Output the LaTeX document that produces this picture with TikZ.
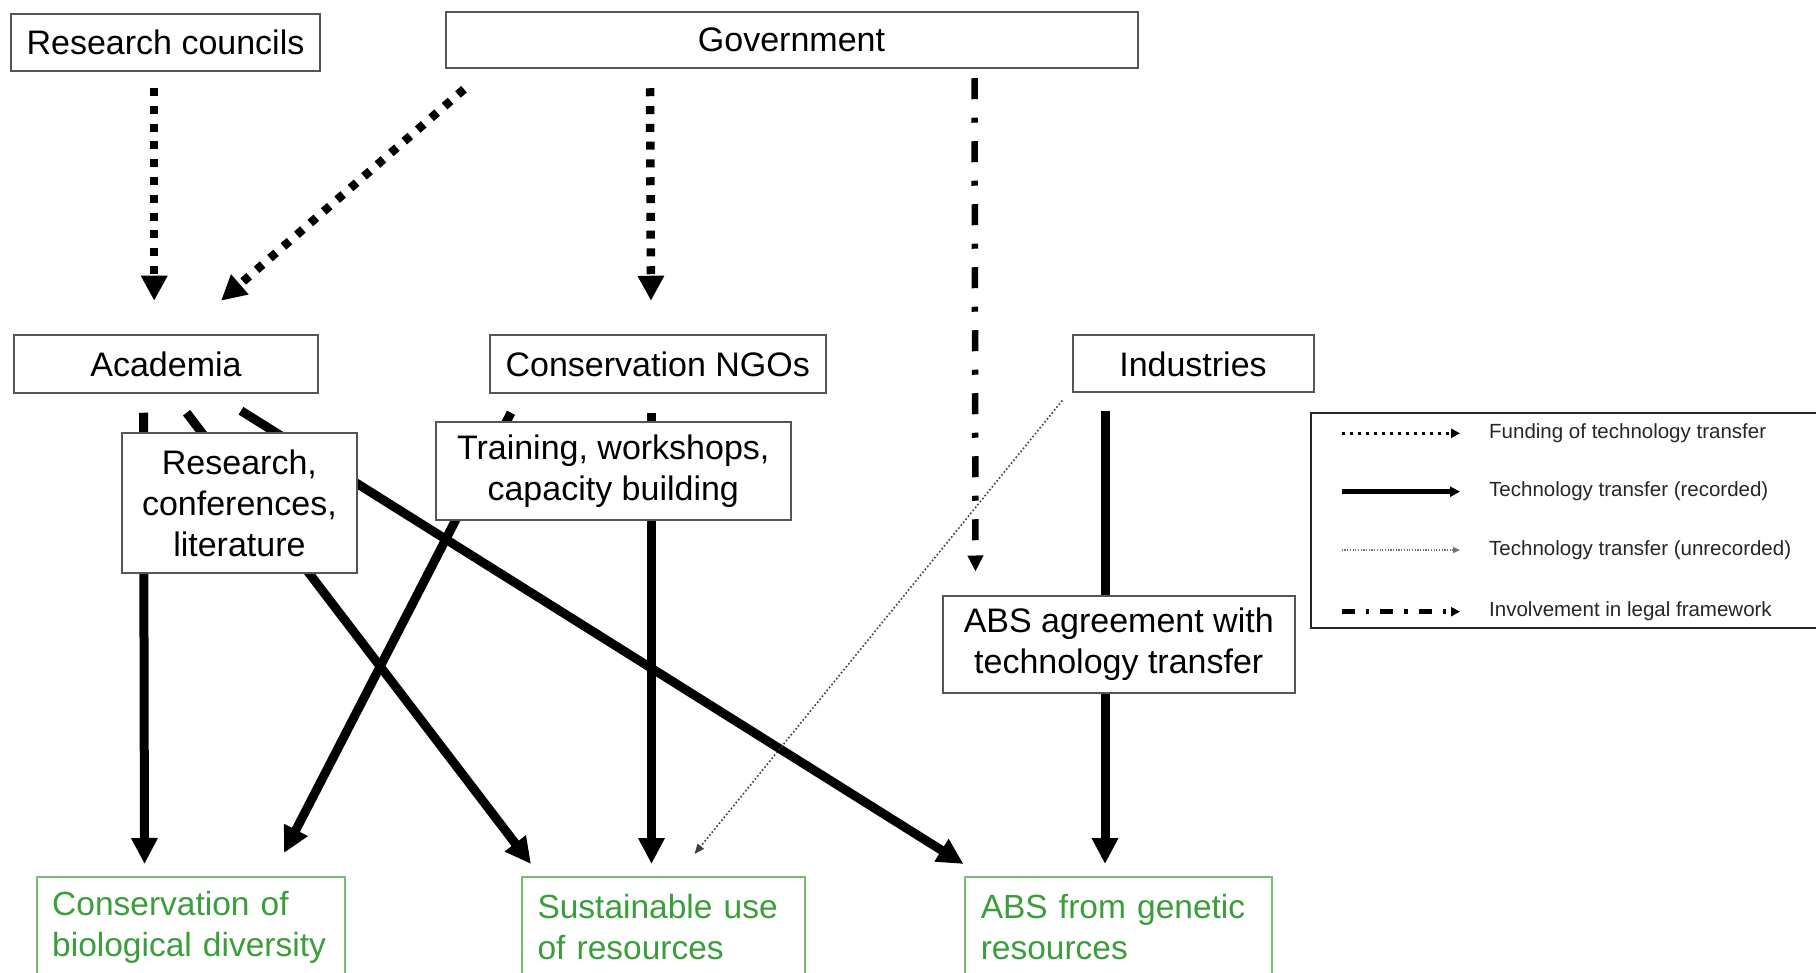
\documentclass[tikz,border=0pt]{standalone}
\usepackage{fontspec}
\setmainfont{Liberation Sans}
\usetikzlibrary{arrows.meta,calc,backgrounds}
\definecolor{grtext}{RGB}{58,158,58}
\definecolor{grline}{RGB}{115,192,115}
\definecolor{boxline}{RGB}{85,85,85}
\hyphenpenalty=10000
\exhyphenpenalty=10000
\begin{document}
\begin{tikzpicture}[x=1pt,y=-1pt,
  box/.style={draw=boxline,line width=2pt,fill=white,inner sep=0pt,
    font=\fontsize{34}{41}\selectfont,align=center},
  goal/.style={draw=grline,line width=2pt,fill=white,inner xsep=15.5pt,inner ysep=0pt,
    font=\fontsize{33.5}{41}\selectfont,
    text=grtext,align=left,anchor=north west,minimum height=101pt},
  fund/.style={line width=8.5pt,dash pattern=on 8pt off 9.8pt,-{Triangle[length=25pt,width=25pt]}},
  rec/.style={line width=9pt,-{Triangle[length=26pt,width=25pt]}},
  recplain/.style={line width=9pt},
  unrec/.style={line width=1.6pt,black!75,dash pattern=on 1.6pt off 2.2pt,-{Triangle[length=10pt,width=8pt]}},
  legal/.style={line width=6.5pt,dash pattern=on 21pt off 18.5pt on 5pt off 18.5pt,-{Triangle[length=16pt,width=15pt]}},
  legtext/.style={font=\fontsize{20.5}{24}\selectfont,anchor=west,text=black!85,inner sep=0pt},
]
\useasboundingbox (0,0) rectangle (1816,973);
\clip (0,0) rectangle (1816,973);

% top row
\node[box,minimum width=309pt,minimum height=57pt] (rc) at (165.5,42.5) {Research councils};
\node[box,minimum width=692pt,minimum height=56.5pt] (gov) at (791.5,40) {Government};
% middle row
\node[box,minimum width=304pt,minimum height=57.5pt] (acad) at (166,364) {Academia};
\node[box,minimum width=336.5pt,minimum height=57.5pt] (ngo) at (657.75,364) {Conservation NGOs};
\node[box,minimum width=241pt,minimum height=57pt] (ind) at (1193,364) {Industries};
% intermediate boxes
\node[box,minimum width=235.3pt,minimum height=140.5pt] (res) at (239.4,503.2) {Research,\\conferences,\\literature};
\node[box,minimum width=354.5pt,minimum height=98pt] (trn) at (613.25,471) {Training, workshops,\\capacity building};
\node[box,minimum width=352.5pt,minimum height=97pt] (absa) at (1118.75,644) {ABS agreement with\\technology transfer};
% goals
\node[goal,text width=276.8pt] (cons) at (35.7,875.5) {Conservation of\\biological diversity};
\node[goal,text width=251.7pt] (sust) at (521,875.5) {Sustainable use\\of resources};
\node[goal,text width=275.4pt] (absg) at (964.3,875.5) {ABS from genetic\\resources};

% legend
\node[draw=black!85,line width=2pt,fill=white,minimum width=520pt,minimum height=215pt,anchor=north west,inner sep=0pt] (leg) at (1310,412) {};
\coordinate (l1a) at (1341.7,433.3); \coordinate (l1b) at (1460,433.3);
\coordinate (l2a) at (1341.7,491.7); \coordinate (l2b) at (1460,491.7);
\coordinate (l3a) at (1341.7,550);   \coordinate (l3b) at (1460,550);
\coordinate (l4a) at (1341.7,611.7); \coordinate (l4b) at (1460,611.7);
\draw[line width=3pt,dash pattern=on 3pt off 5pt,-{Triangle[length=9pt,width=9pt]}] (l1a) -- (l1b);
\draw[line width=5pt,-{Triangle[length=10pt,width=10pt]}] (l2a) -- (l2b);
\draw[line width=1.2pt,black!55,dash pattern=on 1.2pt off 1.5pt,-{Triangle[length=7pt,width=6pt]}] (l3a) -- (l3b);
\draw[line width=4.5pt,dash pattern=on 13pt off 11pt on 3.5pt off 11pt,-{Triangle[length=9pt,width=9pt]}] (l4a) -- (l4b);
\node[legtext] (t1) at (1489,433) {Funding of technology transfer};
\node[legtext] (t2) at (1489,491.5) {Technology transfer (recorded)};
\node[legtext] (t3) at (1489,550) {Technology transfer (unrecorded)};
\node[legtext] (t4) at (1489,611.5) {Involvement in legal framework};

\begin{pgfonlayer}{background}
\fill[white] (0,0) rectangle (1816,973);
% funding
\draw[fund] ($(rc.south)+(-11.3,16)$) -- ($(acad.north)+(-11.8,-33.5)$);
\draw[fund] ($(gov.south west)+(19.5,20)$) -- ($(acad.north)+(55,-33.5)$);
\draw[fund] ($(gov.south west)+(205.5,19)$) -- ($(ngo.north)+(-6.75,-33.5)$);
% legal framework
\draw[legal] ($(gov.south west)+(530,9)$) -- ($(absa.north)+(-143.25,-23)$);
% recorded transfer
\draw[rec] ($(acad.south)+(-22.5,19)$) -- ($(cons.north)+(-46.1,-11.5)$);
\draw[rec] ($(acad.south)+(20.6,19)$) -- ($(sust.north west)+(10,-11.5)$);
\draw[rec] ($(acad.south)+(75,17)$) -- ($(absg.north west)+(-0.8,-11.5)$);
\draw[rec] ($(ngo.south)+(-146.75,19)$) -- ($(cons.north west)+(248.3,-22.5)$);
\draw[rec] ($(ngo.south)+(-6.25,19)$) -- ($(sust.north west)+(130.5,-11.5)$);
\draw[recplain] ($(ind.south)+(-88,18)$) -- ($(absa.north)+(-13.75,0)$);
\draw[rec] ($(absa.south)+(-13.75,0)$) -- ($(absg.north west)+(140.7,-11.5)$);
% unrecorded transfer
\draw[unrec] ($(ind.south west)+(-9.2,7)$) -- ($(sust.north west)+(173.5,-21.5)$);
\end{pgfonlayer}
\end{tikzpicture}
\end{document}
